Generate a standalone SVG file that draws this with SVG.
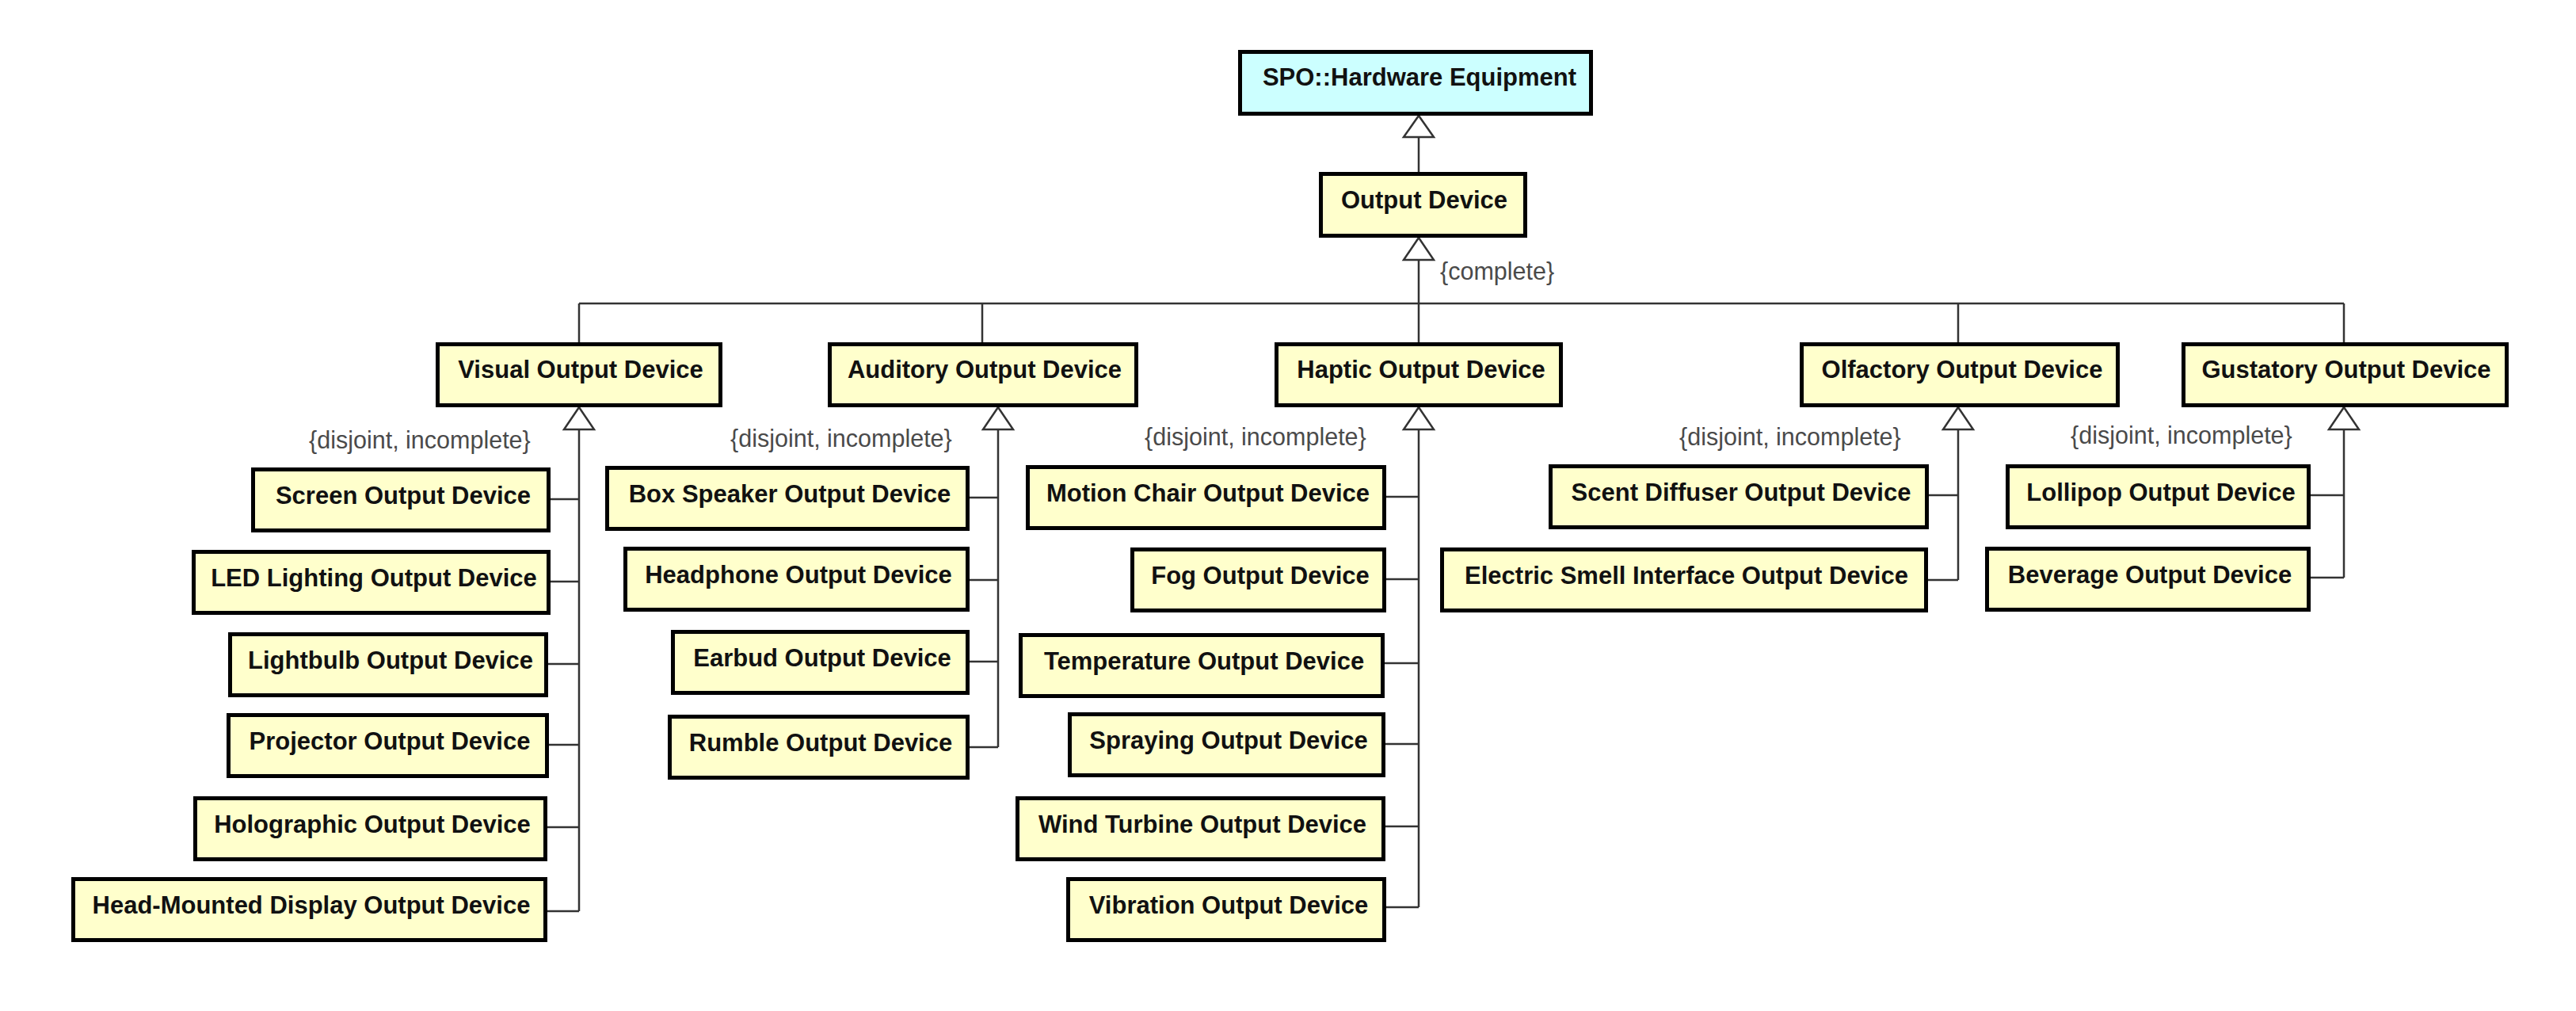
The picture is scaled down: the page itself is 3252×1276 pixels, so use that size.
<svg xmlns="http://www.w3.org/2000/svg" width="3252" height="1276" viewBox="0 0 3252 1276">
<style>
.box{fill:#FFFFCC;stroke:#000;stroke-width:5}
.root{fill:#CCFFFF;stroke:#000;stroke-width:5}
.lbl{font-family:"Liberation Sans",Arial,sans-serif;font-weight:bold;font-size:31px;fill:#111;text-anchor:middle}
.cst{font-family:"Liberation Sans",Arial,sans-serif;font-size:30.5px;fill:#4a4a4a}
.ln{fill:none;stroke:#333;stroke-width:2.5}
.tri{fill:#fff;stroke:#333;stroke-width:2.5;stroke-linejoin:miter}
</style>
<rect width="3252" height="1276" fill="#fff"/>
<g id="connectors">
<polygon class="tri" points="1791,146 1772,173 1810,173"/>
<path class="ln" d="M1791 173V217"/>
<polygon class="tri" points="1791,300 1772,328 1810,328"/>
<path class="ln" d="M1791 328V432M731 383H2959M731 383V432M1240 383V432M2472 383V432M2959 383V432"/>
<polygon class="tri" points="731,514 712,542 750,542"/>
<polygon class="tri" points="1260,514 1241,542 1279,542"/>
<polygon class="tri" points="1791,514 1772,542 1810,542"/>
<polygon class="tri" points="2472,514 2453,542 2491,542"/>
<polygon class="tri" points="2959,514 2940,542 2978,542"/>
<path class="ln" d="M731 542V1150M695 630H731M695 734H731M692 838H731M692 940H731M691 1044H731M691 1150H731"/>
<path class="ln" d="M1260 542V943M1224 628H1260M1224 732H1260M1224 835H1260M1224 943H1260"/>
<path class="ln" d="M1791 542V1145M1750 627H1791M1750 731H1791M1748 837H1791M1749 939H1791M1749 1043H1791M1750 1145H1791"/>
<path class="ln" d="M2472 542V732M2435 625H2472M2434 732H2472"/>
<path class="ln" d="M2959 542V729M2917 625H2959M2917 729H2959"/>
<text class="cst" x="1818" y="353">{complete}</text>
<text class="cst" x="390" y="566">{disjoint, incomplete}</text>
<text class="cst" x="922" y="564">{disjoint, incomplete}</text>
<text class="cst" x="1445" y="562">{disjoint, incomplete}</text>
<text class="cst" x="2120" y="562">{disjoint, incomplete}</text>
<text class="cst" x="2614" y="560">{disjoint, incomplete}</text>
</g>
<g id="hardware-equipment"><rect class="root" x="1565.5" y="65.5" width="443" height="78"/><text class="lbl" x="1792" y="108">SPO::Hardware Equipment</text></g>
<g id="output-device"><rect class="box" x="1667.5" y="219.5" width="258" height="78"/><text class="lbl" x="1798" y="263">Output Device</text></g>
<g id="visual"><rect class="box" x="552.5" y="434.5" width="357" height="77"/><text class="lbl" x="733" y="477">Visual Output Device</text></g>
<g id="auditory"><rect class="box" x="1047.5" y="434.5" width="387" height="77"/><text class="lbl" x="1243" y="477">Auditory Output Device</text></g>
<g id="haptic"><rect class="box" x="1611.5" y="434.5" width="359" height="77"/><text class="lbl" x="1794" y="477">Haptic Output Device</text></g>
<g id="olfactory"><rect class="box" x="2274.5" y="434.5" width="399" height="77"/><text class="lbl" x="2477" y="477">Olfactory Output Device</text></g>
<g id="gustatory"><rect class="box" x="2756.5" y="434.5" width="408" height="77"/><text class="lbl" x="2962" y="477">Gustatory Output Device</text></g>
<g id="screen"><rect class="box" x="319.5" y="592.5" width="373" height="77"/><text class="lbl" x="509" y="636">Screen Output Device</text></g>
<g id="led"><rect class="box" x="244.5" y="696.5" width="448" height="77"/><text class="lbl" x="472" y="740">LED Lighting Output Device</text></g>
<g id="lightbulb"><rect class="box" x="290.5" y="800.5" width="399" height="77"/><text class="lbl" x="493" y="844">Lightbulb Output Device</text></g>
<g id="projector"><rect class="box" x="288.5" y="902.5" width="402" height="77"/><text class="lbl" x="492" y="946">Projector Output Device</text></g>
<g id="holographic"><rect class="box" x="246.5" y="1007.5" width="442" height="77"/><text class="lbl" x="470" y="1051">Holographic Output Device</text></g>
<g id="hmd"><rect class="box" x="92.5" y="1109.5" width="596" height="77"/><text class="lbl" x="393" y="1153">Head-Mounted Display Output Device</text></g>
<g id="box-speaker"><rect class="box" x="766.5" y="590.5" width="455" height="77"/><text class="lbl" x="997" y="634">Box Speaker Output Device</text></g>
<g id="headphone"><rect class="box" x="789.5" y="692.5" width="432" height="77"/><text class="lbl" x="1008" y="736">Headphone Output Device</text></g>
<g id="earbud"><rect class="box" x="849.5" y="797.5" width="372" height="77"/><text class="lbl" x="1038" y="841">Earbud Output Device</text></g>
<g id="rumble"><rect class="box" x="845.5" y="904.5" width="376" height="77"/><text class="lbl" x="1036" y="948">Rumble Output Device</text></g>
<g id="motion-chair"><rect class="box" x="1297.5" y="589.5" width="450" height="77"/><text class="lbl" x="1525" y="633">Motion Chair Output Device</text></g>
<g id="fog"><rect class="box" x="1429.5" y="693.5" width="318" height="77"/><text class="lbl" x="1591" y="737">Fog Output Device</text></g>
<g id="temperature"><rect class="box" x="1288.5" y="801.5" width="457" height="77"/><text class="lbl" x="1520" y="845">Temperature Output Device</text></g>
<g id="spraying"><rect class="box" x="1350.5" y="901.5" width="396" height="77"/><text class="lbl" x="1551" y="945">Spraying Output Device</text></g>
<g id="wind-turbine"><rect class="box" x="1284.5" y="1007.5" width="462" height="77"/><text class="lbl" x="1518" y="1051">Wind Turbine Output Device</text></g>
<g id="vibration"><rect class="box" x="1348.5" y="1109.5" width="399" height="77"/><text class="lbl" x="1551" y="1153">Vibration Output Device</text></g>
<g id="scent-diffuser"><rect class="box" x="1957.5" y="588.5" width="475" height="77"/><text class="lbl" x="2198" y="632">Scent Diffuser Output Device</text></g>
<g id="electric-smell"><rect class="box" x="1820.5" y="693.5" width="611" height="77"/><text class="lbl" x="2129" y="737">Electric Smell Interface Output Device</text></g>
<g id="lollipop"><rect class="box" x="2534.5" y="588.5" width="380" height="77"/><text class="lbl" x="2728" y="632">Lollipop Output Device</text></g>
<g id="beverage"><rect class="box" x="2508.5" y="692.5" width="406" height="77"/><text class="lbl" x="2714" y="736">Beverage Output Device</text></g>
</svg>
